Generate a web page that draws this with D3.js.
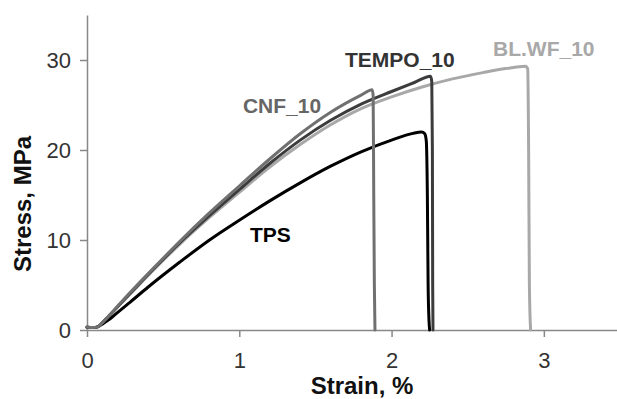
<!DOCTYPE html>
<html>
<head>
<meta charset="utf-8">
<script src="https://cdn.jsdelivr.net/npm/d3@7"></script>
<style>
  body { margin: 0; background: #fff; }
  svg { display: block; font-family: "Liberation Sans", Arial, sans-serif; }
  .axis path, .axis line { stroke: #888; stroke-width: 1.5px; }
  .axis text { font-size: 22px; fill: #333; }
  .axisTitle { font-size: 24px; font-weight: bold; fill: #111; }
  .seriesLabel { font-size: 21px; font-weight: bold; }
</style>
</head>
<body>
<div id="chart"></div>
<script>
var width = 617, height = 399;
var margin = { top: 15, right: -3, bottom: 69, left: 87 };

var xTicks = [0, 1, 2, 3];
var yTicks = [0, 10, 20, 30];

// stress-strain curves: [strain %, stress MPa]
var tpsCurve = [[0, 0.3], [0.04, 0.28], [0.07, 0.35], [0.1, 0.65], [0.14, 1.1], [0.18, 1.65],
    [0.28, 3.05], [0.4, 4.75], [0.61, 7.55], [0.8, 9.95], [1.0, 12.2], [1.2, 14.35], [1.4, 16.35],
    [1.6, 18.2], [1.8, 19.8], [2.0, 21.1], [2.14, 21.85], [2.197, 22.0], [2.218, 21.8],
    [2.228, 21.0], [2.235, 15], [2.24, 5], [2.246, 1], [2.25, 0]];

var cnfCurve = [[0, 0.3], [0.04, 0.28], [0.07, 0.35], [0.1, 0.8], [0.14, 1.5], [0.18, 2.25],
    [0.28, 4.1], [0.45, 7.1], [0.61, 9.85], [0.8, 12.95], [1.0, 16.0], [1.2, 19.0], [1.4, 21.8],
    [1.6, 24.2], [1.8, 26.1], [1.873, 26.7], [1.879, 26.0], [1.883, 15], [1.887, 5], [1.891, 0]];

var tempoCurve = [[0, 0.3], [0.04, 0.28], [0.07, 0.35], [0.1, 0.8], [0.14, 1.5], [0.18, 2.2],
    [0.28, 4.0], [0.45, 7.0], [0.61, 9.7], [0.8, 12.65], [1.0, 15.6], [1.2, 18.5], [1.4, 21.1],
    [1.6, 23.3], [1.8, 25.1], [2.0, 26.5], [2.15, 27.5], [2.256, 28.2], [2.264, 27.6],
    [2.268, 20], [2.27, 5], [2.272, 0]];

var blwfCurve = [[0, 0.3], [0.04, 0.28], [0.07, 0.35], [0.1, 0.8], [0.14, 1.5], [0.18, 2.2],
    [0.28, 3.95], [0.45, 6.9], [0.61, 9.55], [0.8, 12.45], [1.0, 15.3], [1.2, 18.1], [1.4, 20.6],
    [1.6, 22.8], [1.8, 24.6], [2.0, 25.9], [2.2, 27.0], [2.4, 27.9], [2.6, 28.6], [2.75, 29.05],
    [2.88, 29.3], [2.894, 29.0], [2.9, 20], [2.905, 5], [2.913, 0]];

var seriesNames = ['BL.WF_10', 'TPS', 'TEMPO_10', 'CNF_10'];
var seriesColours = ['#a8a8a8', '#000000', '#3c3c3c', '#707070'];
var seriesCurves = [blwfCurve, tpsCurve, tempoCurve, cnfCurve];

// where each series name sits, in data units [strain, stress at baseline]
var labelNames = ['CNF_10', 'TEMPO_10', 'BL.WF_10', 'TPS'];
var labelAt = [[1.024, 24.1], [1.694, 29.2], [2.666, 30.4], [1.07, 9.8]];
var labelColours = ['#666666', '#333333', '#a8a8a8', '#000000'];

var svg = d3.select('#chart')
    .append('svg')
    .attr('width', width)
    .attr('height', height);

let x = d3.scaleLinear()
    .domain([0, 3.5])
    .range([margin.left, width - margin.right]);

let y = d3.scaleLinear()
    .domain([0, 35])
    .range([height - margin.bottom, margin.top]);

let xAxis = d3.axisBottom(x)
    .tickValues(xTicks)
    .tickSize(7)
    .tickSizeOuter(0)
    .tickPadding(15)
    .tickFormat(d3.format('d'));

let yAxis = d3.axisLeft(y)
    .tickValues(yTicks)
    .tickSize(7)
    .tickSizeOuter(0)
    .tickPadding(9)
    .tickFormat(d3.format('d'));

svg.append('g')
    .attr('class', 'axis yAxis')
    .attr('transform', `translate(${x(0)}, 0)`)
    .call(yAxis);

svg.append('g')
    .attr('class', 'axis xAxis')
    .attr('transform', `translate(0, ${y(0)})`)
    .call(xAxis);

svg.selectAll('.axis').attr('font-family', null).attr('font-size', null);

let line = d3.line()
    .x(d => x(d[0]))
    .y(d => y(d[1]))
    .curve(d3.curveMonotoneX);

svg.selectAll('path.curve')
    .data(seriesCurves)
    .enter()
    .append('path')
    .attr('class', 'curve')
    .attr('d', d => line(d))
    .attr('fill', 'none')
    .attr('stroke', (d, i) => seriesColours[i])
    .attr('stroke-width', 3)
    .attr('stroke-linejoin', 'round')
    .attr('stroke-linecap', 'round');

svg.selectAll('text.seriesLabel')
    .data(labelNames)
    .enter()
    .append('text')
    .attr('class', 'seriesLabel')
    .attr('x', (d, i) => x(labelAt[i][0]))
    .attr('y', (d, i) => y(labelAt[i][1]))
    .attr('fill', (d, i) => labelColours[i])
    .text(d => d);

// axis titles
svg.append('text')
    .attr('class', 'axisTitle')
    .attr('text-anchor', 'middle')
    .attr('x', 362)
    .attr('y', 394)
    .text('Strain, %');

svg.append('text')
    .attr('class', 'axisTitle')
    .attr('text-anchor', 'middle')
    .attr('transform', 'translate(31, 204) rotate(-90)')
    .text('Stress, MPa');
</script>
</body>
</html>
